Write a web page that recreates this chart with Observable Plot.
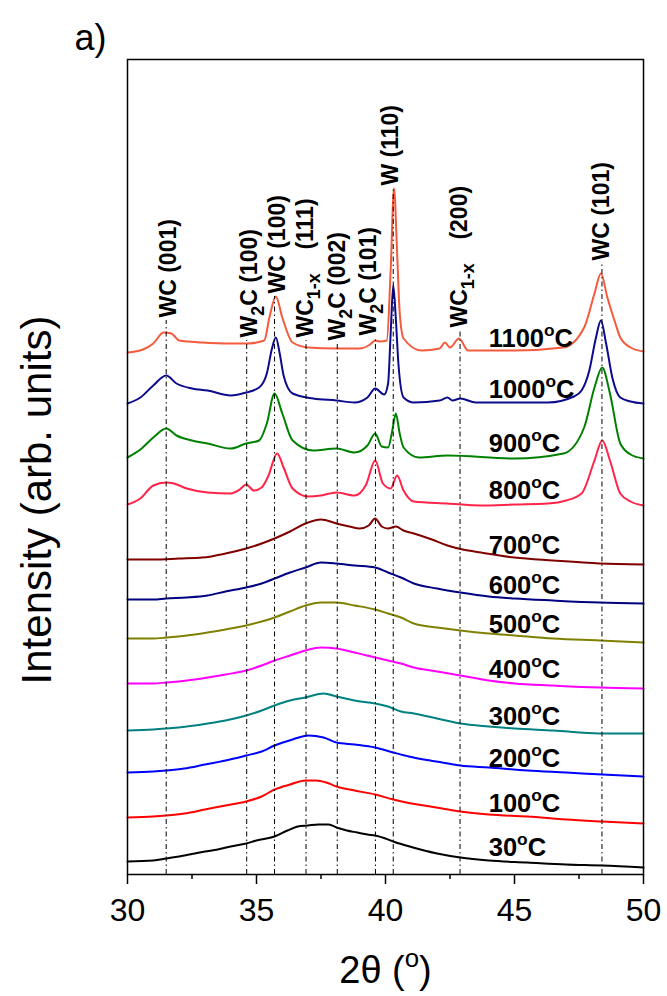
<!DOCTYPE html>
<html>
<head>
<meta charset="utf-8">
<script src="https://cdn.jsdelivr.net/npm/d3@7"></script>
<script src="https://cdn.jsdelivr.net/npm/@observablehq/plot@0.6"></script>
<style>
  html, body { margin: 0; padding: 0; background: #fff; }
  #chart svg { display: block; }
</style>
</head>
<body>
<div id="chart"></div>
<script>
// Annealing temperatures (ºC), bottom to top of the stack
const temps = [30, 100, 200, 300, 400, 500, 600, 700, 800, 900, 1000, 1100];

// Vertical stacking offset of each pattern (arb. units)
const offsets = [13, 57, 102, 144, 191, 236, 275, 315, 370, 417, 471, 522];

// XRD patterns: [2θ (º), intensity above the pattern's own baseline (arb. units)]
const xrd30 = [[30,0],[31,1],[31.5,3],[32,5],[33,10],[33.5,12],[34,15],[34.6,18],[35,21],[35.7,25],[36.2,31],[36.6,35],[37,36],[37.4,37],[37.8,37],[38.1,34],[38.5,31],[38.9,29],[39.3,27],[39.6,26],[40,23],[40.3,20],[40.8,16],[41.5,11],[42,8],[42.9,4],[44,1],[45.5,-1],[47,-3],[48.4,-4],[50,-6]];
const xrd100 = [[30,0],[31,1],[31.5,2],[32.2,4],[33,8],[33.8,12],[34.6,16],[35.2,21],[35.7,28],[36.3,33],[36.9,37],[37.3,37],[37.7,35],[38.1,31],[38.8,27],[39.6,23],[40.3,18],[41,14],[41.5,12],[42.2,9],[42.9,6],[44,3],[45.5,1],[47,-2],[48.4,-4],[50,-6]];
const xrd200 = [[30,0],[31,1],[31.5,2],[32.2,4],[33,8],[33.8,12],[34.6,17],[35.2,21],[35.7,27],[36.4,33],[37,37],[37.6,35],[38.1,30],[38.8,28],[39.6,25],[40.3,20],[40.9,16],[41.5,13],[42.2,10],[42.9,7],[44,5],[45.5,2],[47,0],[48.4,-2],[50,-4]];
const xrd300 = [[30,0],[31,1],[31.5,2],[32.3,4],[33.1,7],[33.8,10],[34.6,15],[35.2,20],[35.7,25],[36.3,30],[36.9,33],[37.6,37],[38.1,34],[38.8,30],[39.6,27],[40.1,24],[40.6,19],[41.1,17],[42,12],[42.9,7],[44,4],[45,2],[46.5,0],[48.3,-3],[50,-3]];
const xrd400 = [[30,0],[31,0],[31.5,1],[32.3,3],[33.1,6],[33.8,9],[34.6,13],[35.2,18],[35.7,23],[36.3,28],[36.9,33],[37.5,36],[38.1,35],[38.8,31],[39.6,26],[40.1,23],[40.6,20],[41.1,16],[42,12],[42.9,8],[44,3],[45,0],[46.5,-2],[48.3,-4],[50,-5]];
const xrd500 = [[30,0],[31,0],[31.5,1],[32.3,3],[33.1,6],[33.8,9],[34.6,13],[35.2,17],[35.7,21],[36.3,27],[36.9,33],[37.5,36],[38.1,36],[38.8,33],[39.6,29],[40.1,25],[40.6,21],[41.1,15],[42,11],[42.9,8],[44,5],[45,3],[46.5,0],[48.3,-2],[50,-4]];
const xrd600 = [[30,0],[31,0],[31.5,1],[32.3,2],[33.1,4],[33.8,8],[34.6,12],[35.2,16],[35.7,21],[36.3,27],[36.9,32],[37.5,37],[38.1,36],[38.8,34],[39.6,32],[40.1,27],[40.6,22],[41.1,16],[42,11],[42.9,7],[44,3],[45,1],[46.5,-1],[48.3,-3],[50,-4]];
const xrd700 = [[30,0],[31,0],[32,1],[32.9,2],[33.8,6],[34.6,11],[35.2,16],[35.7,21],[36.3,28],[36.9,36],[37.5,40],[38.1,36],[38.6,33],[39,31],[39.35,34],[39.6,41],[39.85,33],[40.1,31],[40.4,33],[40.7,29],[41.1,26],[41.8,20],[42.4,14],[43,10],[43.7,7],[45,2],[46.5,-1],[48.3,-4],[50,-5]];
const xrd800 = [[30,0],[30.5,6],[31,19],[31.5,22],[31.8,21],[32.3,16],[33.1,12],[34,11],[34.35,15],[34.6,20],[34.9,14],[35.2,17],[35.45,28],[35.8,51],[36.05,37],[36.4,16],[37,8],[37.5,9],[38.1,12],[38.8,9],[39.25,20],[39.6,44],[39.9,21],[40.2,16],[40.45,29],[40.7,14],[41.1,3],[42.4,1],[43.7,-1],[45,0],[46.3,1],[47,4],[47.6,11],[48.1,44],[48.4,64],[48.7,44],[49.1,11],[49.5,3],[50,-1]];
const xrd900 = [[30,0],[30.5,8],[31,20],[31.5,29],[31.9,22],[32.5,17],[33.1,14],[34,9],[34.6,14],[35.1,17],[35.4,34],[35.7,64],[36,44],[36.4,17],[37.2,7],[38.1,9],[38.8,5],[39.3,12],[39.6,24],[39.85,11],[40.1,10],[40.25,25],[40.4,44],[40.55,24],[40.7,10],[41.3,0],[42.4,2],[45,-1],[46.9,4],[47.7,30],[48.1,70],[48.4,90],[48.7,64],[49.1,14],[49.5,3],[50,-1]];
const xrd1000 = [[30,0],[30.5,6],[31,18],[31.5,28],[31.9,20],[32.5,15],[33.1,13],[34,8],[34.6,11],[35.1,16],[35.4,30],[35.6,55],[35.75,66],[35.9,50],[36.05,28],[36.4,10],[37.2,5],[38.1,3],[38.8,1],[39.3,6],[39.6,15],[39.95,9],[40.1,20],[40.2,70],[40.3,118],[40.4,85],[40.5,40],[40.7,6],[41.1,1],[42.1,3],[42.4,6],[42.6,3],[42.9,5],[43.5,1],[46.3,1],[47.3,7],[47.6,13],[47.9,33],[48.15,65],[48.35,83],[48.55,60],[48.8,25],[49.1,6],[49.5,2],[50,0]];
const xrd1100 = [[30,0],[30.6,3],[31,9],[31.4,20],[31.7,19],[32,12],[32.9,10],[34,9],[34.6,9],[35.3,12],[35.5,35],[35.75,56],[36,35],[36.4,10],[37,5],[38.1,4],[39,4],[39.4,8],[39.6,12],[39.8,11],[40.05,12],[40.2,82],[40.33,164],[40.45,100],[40.55,40],[40.7,14],[41.4,2],[42.1,4],[42.3,10],[42.5,5],[42.85,14],[43.2,2],[45,2],[46.9,5],[47.7,25],[48.1,59],[48.35,79],[48.6,55],[48.9,30],[49.1,15],[49.5,5],[50,1]];

const patterns = [xrd30, xrd100, xrd200, xrd300, xrd400, xrd500, xrd600, xrd700, xrd800, xrd900, xrd1000, xrd1100];

// Reflections: phase label (_{} subscript, | wider gap), 2θ of the reference line,
// 2θ of the label centre and the level where the label starts
const peakNames = ["WC (001)", "W_{2}C (100)", "WC (100)", "WC_{1-x}| (111)", "W_{2}C (002)", "W_{2}C (101)", "W (110)", "WC_{1-x}| (200)", "WC (101)"];
const peakPos = [31.5, 34.62, 35.7, 36.92, 38.13, 39.61, 40.3, 42.89, 48.39];
const peakLabelPos = [31.6, 34.75, 35.8, 36.92, 38.13, 39.35, 40.2, 42.89, 48.39];
const peakLabelBase = [557, 537, 581, 537, 534, 539, 689, 547, 614];

// Trace colours, same order as temps
const colors = ["#000000", "#ff0000", "#0000ff", "#008080", "#ff00ff", "#808000", "#000080", "#800000", "#ff2448", "#008000", "#0b0b8c", "#f45a3c"];

const rows = patterns.flatMap((p, i) =>
  p.map(([tt, I]) => ({temp: temps[i], twoTheta: tt, level: I + offsets[i]}))
);
const peaks = peakNames.map((name, i) => ({
  name, pos: peakPos[i], labelX: peakLabelPos[i], base: peakLabelBase[i], top: peakLabelBase[i] - 3
}));
const tempRows = temps.map((t, i) => ({label: `${t}^{o}C`, level: offsets[i] + 6}));

const font = "'Liberation Sans', Arial, Helvetica, sans-serif";

const chart = Plot.plot({
  width: 667,
  height: 996,
  marginLeft: 127,
  marginRight: 24,
  marginTop: 59,
  marginBottom: 122,
  x: {domain: [30, 50]},
  y: {domain: [0, 815], axis: null},
  color: {type: "ordinal", domain: temps, range: colors},
  style: {fontFamily: font, background: "#fff", color: "#000"},
  marks: [
    Plot.lineY(rows, {x: "twoTheta", y: "level", z: "temp", stroke: "temp", strokeWidth: 2, curve: "monotone-x"}),
    Plot.ruleX(peaks, {x: "pos", y1: 0, y2: "top", stroke: "#000", strokeWidth: 1, strokeDasharray: "5,3,1.5,3"}),
    Plot.text(peaks, {x: "labelX", y: "base", text: "name", rotate: -90, textAnchor: "start", lineAnchor: "middle", fontSize: 23, fontWeight: "bold", fill: "#000"}),
    Plot.text(tempRows, {x: 44.0, y: "level", text: "label", textAnchor: "start", lineAnchor: "bottom", fontSize: 25.5, fontWeight: "bold", fill: "#000"}),
    Plot.frame({stroke: "#000", strokeWidth: 1.5}),
    Plot.axisX([30, 35, 40, 45, 50], {tickSize: 10, tickPadding: 14, fontSize: 32, strokeWidth: 1.5, label: null, tickFormat: d => d}),
    Plot.axisX([32.5, 37.5, 42.5, 47.5], {tickSize: 5, strokeWidth: 1.5, label: null, tickFormat: () => ""}),
    Plot.text(["Intensity (arb. units)"], {text: d => d, frameAnchor: "left", rotate: -90, dx: -90, dy: 33, fontSize: 42, textAnchor: "middle", lineAnchor: "middle"}),
    Plot.text(["2θ (^{o})"], {text: d => d, frameAnchor: "bottom", dy: 96, fontSize: 38, textAnchor: "middle", lineAnchor: "middle"}),
    Plot.text(["a)"], {text: d => d, frameAnchor: "top-left", dx: -21, dy: -10, fontSize: 36, textAnchor: "end", lineAnchor: "bottom"})
  ]
});

document.getElementById("chart").append(chart);

// Turn _{..} into subscripts, ^{..} into superscripts and | into a wider gap
const SVGNS = "http://www.w3.org/2000/svg";
function richText(el) {
  const s = el.textContent;
  if (!/[_^]\{|\|/.test(s)) return;
  const fs = parseFloat(getComputedStyle(el).fontSize);
  const re = /([_^])\{([^}]*)\}|\|/g;
  const parts = [];
  let last = 0, m;
  while ((m = re.exec(s))) {
    if (m.index > last) parts.push({t: s.slice(last, m.index), k: ""});
    if (m[0] === "|") parts.push({gap: true});
    else parts.push({t: m[2], k: m[1]});
    last = re.lastIndex;
  }
  if (last < s.length) parts.push({t: s.slice(last), k: ""});
  el.textContent = "";
  let cur = 0, gap = 0;
  for (const p of parts) {
    if (p.gap) { gap += 0.75 * fs; continue; }
    const ts = document.createElementNS(SVGNS, "tspan");
    const target = p.k === "_" ? 0.3 * fs : p.k === "^" ? -0.4 * fs : 0;
    if (target !== cur) ts.setAttribute("dy", target - cur);
    if (gap) { ts.setAttribute("dx", gap); gap = 0; }
    if (p.k) ts.setAttribute("font-size", (p.k === "_" ? 0.78 : 0.68) * fs);
    ts.textContent = p.t;
    cur = target;
    el.appendChild(ts);
  }
}
chart.querySelectorAll("text").forEach(richText);
</script>
</body>
</html>
